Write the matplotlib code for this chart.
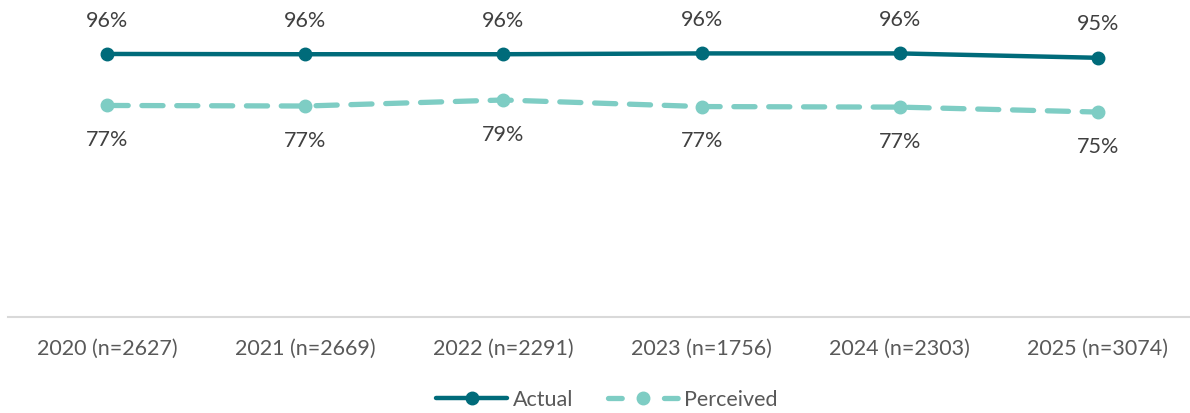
import matplotlib.pyplot as plt
from matplotlib.lines import Line2D

years = ["2020 (n=2627)", "2021 (n=2669)", "2022 (n=2291)",
         "2023 (n=1756)", "2024 (n=2303)", "2025 (n=3074)"]
actual = [96.0, 95.9, 95.9, 96.2, 96.2, 94.6]
perceived = [77.2, 77.0, 79.2, 76.8, 76.6, 74.8]

plt.rcParams['font.family'] = ['Lato', 'DejaVu Sans']

dark = '#006B7A'
light = '#7ECDC4'
txt = '#404040'

fig = plt.figure(figsize=(11.9, 4.13), dpi=100)
ax = fig.add_axes([8 / 1190, 96 / 413, 1189 / 1190, 274 / 413])
x = range(len(years))

ax.plot(x, actual, color=dark, lw=3.2, marker='o', ms=9,
        solid_capstyle='round', zorder=3)
ax.plot(x, perceived, color=light, lw=3.8, ls=(0, (4, 2.6)), marker='o', ms=9,
        dash_capstyle='round', zorder=3)

for i in x:
    ax.annotate(f"{actual[i]:.0f}%", (i, actual[i]), xytext=(0, 24),
                textcoords='offset points', ha='center', va='center',
                fontsize=15.5, color=txt)
    ax.annotate(f"{perceived[i]:.0f}%", (i, perceived[i]), xytext=(0, -25),
                textcoords='offset points', ha='center', va='center',
                fontsize=15.5, color=txt)

ax.set_xlim(-0.5, 5.5)
ax.set_ylim(0, 100)
ax.set_xticks(list(x))
ax.set_xticklabels(years, fontsize=15.5, color='#595959')
ax.tick_params(axis='x', length=0, pad=16)
ax.set_yticks([])
for s in ['top', 'right', 'left']:
    ax.spines[s].set_visible(False)
ax.spines['bottom'].set_color('#D9D9D9')
ax.spines['bottom'].set_linewidth(1.5)

# legend proxies so the dashed handle reads dash - marker - dash
h_act = Line2D([], [], color=dark, lw=3.2, marker='o', ms=9, solid_capstyle='round')
h_per = Line2D([], [], color=light, lw=3.8, marker='o', ms=9,
               ls=(0, (2.6, 8.0)), dash_capstyle='round')
leg = fig.legend([h_act, h_per], ['Actual', 'Perceived'], loc='center',
                 bbox_to_anchor=(0.51, 13 / 413), ncol=2,
                 frameon=False, fontsize=15.5, handlelength=3.3,
                 columnspacing=1.6, handletextpad=0.25)
for t in leg.get_texts():
    t.set_color('#595959')

fig.savefig('out.png', dpi=100)
